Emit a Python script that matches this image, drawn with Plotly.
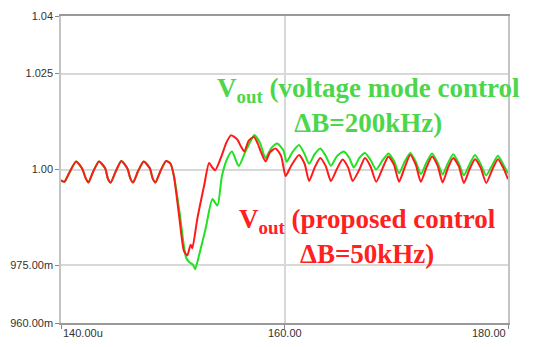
import plotly.graph_objects as go

# time in microseconds, voltage in volts
t_pre = [140.0, 140.3, 140.8, 141.35, 141.9, 142.2, 142.45, 142.9, 143.4, 143.95, 144.2, 144.45,
         144.9, 145.4, 145.95, 146.2, 146.45, 146.9, 147.4, 147.95, 148.2, 148.45, 148.9, 149.4, 149.8]
v_pre = [0.9972, 0.9968, 0.9995, 1.0021, 1.0002, 0.9978, 0.9966, 0.9996, 1.0021, 1.0003, 0.9976, 0.9966,
         0.9995, 1.0022, 1.0002, 0.9977, 0.9966, 0.9996, 1.0021, 1.0003, 0.9977, 0.9966, 0.9996, 1.0022, 1.0015]

t_red = [150.1, 150.6, 151.0, 151.3, 151.6, 151.75, 152.2, 152.8, 153.25, 153.55, 153.8, 154.3, 154.8,
         155.2, 155.5, 155.8, 156.1, 156.4, 156.8, 157.26, 157.6, 157.9, 158.3, 158.7, 159.2, 159.7,
         160.1, 160.6, 161.3, 161.8, 162.2, 162.7, 163.2, 163.7, 164.15, 164.7, 165.2, 165.7, 166.1,
         166.7, 167.2, 167.7, 168.2, 168.8, 169.3, 169.8, 170.25, 170.75, 171.25, 171.75, 172.2, 172.7,
         173.2, 173.7, 174.15, 174.6, 175.1, 175.6, 176.05, 176.55, 177.05, 177.55, 178.05, 178.6,
         179.1, 179.6, 180.0]
v_red = [0.9983, 0.9872, 0.9788, 0.9776, 0.9804, 0.9795, 0.9872, 0.9957, 1.0017, 1.0005, 0.9998, 1.0030,
         1.0070, 1.0089, 1.0085, 1.0077, 1.0060, 1.0047, 1.0075, 1.0085, 1.0068, 1.0045, 1.0021, 1.0045,
         1.0055, 1.0035, 0.9983, 1.0010, 1.0038, 1.0015, 0.9970, 1.0005, 1.0030, 1.0008, 0.9970, 1.0002,
         1.0026, 1.0005, 0.9970, 1.0000, 1.0030, 1.0008, 0.9968, 1.0005, 1.0034, 1.0012, 0.9968, 1.0005,
         1.0038, 1.0012, 0.9968, 1.0005, 1.0034, 1.0010, 0.9966, 1.0002, 1.0030, 1.0008, 0.9965, 1.0000,
         1.0027, 1.0005, 0.9965, 1.0000, 1.0027, 1.0003, 0.9975]

t_green = [150.1, 150.6, 151.0, 151.2, 151.5, 151.8, 152.0, 152.35, 152.95, 153.55, 154.0, 154.4, 154.9,
           155.3, 155.9, 156.5, 157.1, 157.3, 157.8, 158.3, 158.8, 159.35, 159.9, 160.2, 160.7, 161.3,
           161.8, 162.2, 162.7, 163.2, 163.7, 164.15, 164.7, 165.3, 165.8, 166.2, 166.7, 167.2, 167.7,
           168.2, 168.8, 169.3, 169.8, 170.25, 170.75, 171.25, 171.75, 172.2, 172.7, 173.2, 173.7, 174.15,
           174.6, 175.1, 175.6, 176.05, 176.55, 177.05, 177.55, 178.05, 178.6, 179.1, 179.6, 180.0]
v_green = [0.9985, 0.9890, 0.9800, 0.9770, 0.9758, 0.9752, 0.9740, 0.9776, 0.9847, 0.9923, 0.9906, 0.9983,
           1.0030, 1.0047, 1.0009, 1.0047, 1.0081, 1.0090, 1.0070, 1.0030, 1.0055, 1.0068, 1.0050, 1.0020,
           1.0045, 1.0064, 1.0040, 1.0015, 1.0040, 1.0055, 1.0035, 1.0010, 1.0035, 1.0047, 1.0030, 1.0005,
           1.0030, 1.0043, 1.0025, 1.0000, 1.0025, 1.0042, 1.0022, 0.9990, 1.0020, 1.0043, 1.0020, 0.9988,
           1.0018, 1.0042, 1.0018, 0.9987, 1.0015, 1.0040, 1.0016, 0.9985, 1.0013, 1.0038, 1.0014, 0.9985,
           1.0012, 1.0036, 1.0012, 0.9990]

y_tickvals = [0.96, 0.975, 1.0, 1.025, 1.04]
y_ticktext = ["960.00m", "975.00m", "1.00", "1.025", "1.04"]
x_tickvals = [140, 160, 180]
x_ticktext = ["140.00u", "160.00", "180.00"]

green_label = "<b>V<sub>out</sub> (voltage mode control<br>ΔB=200kHz)</b>"
red_label = "<b>V<sub>out</sub> (proposed control<br>ΔB=50kHz)</b>"

fig = go.Figure()
fig.add_trace(go.Scatter(x=t_pre + t_green, y=v_pre + v_green, mode="lines",
                         line=dict(color="#22e022", width=2, shape="spline", smoothing=0.6),
                         showlegend=False))
fig.add_trace(go.Scatter(x=t_pre + t_red, y=v_pre + v_red, mode="lines",
                         line=dict(color="#ff1a1a", width=2, shape="spline", smoothing=0.6),
                         showlegend=False))

annotations = []
anchors = ["left", "center", "right"]
for xv, xt, an in zip(x_tickvals, x_ticktext, anchors):
    annotations.append(dict(x=xv, y=0, xref="x", yref="paper", text=xt, showarrow=False,
                            xanchor=an, yanchor="top", yshift=-2,
                            font=dict(family="Liberation Sans", size=11, color="#333333")))
annotations.append(dict(x=167.5, y=1.0168, xref="x", yref="y", text=green_label, showarrow=False,
                        xanchor="center", yanchor="middle", align="center",
                        font=dict(family="Liberation Serif", size=27, color="#4cd64c")))
annotations.append(dict(x=167.4, y=0.9826, xref="x", yref="y", text=red_label, showarrow=False,
                        xanchor="center", yanchor="middle", align="center",
                        font=dict(family="Liberation Serif", size=27, color="#ff2020")))

fig.update_layout(
    width=534, height=347,
    margin=dict(l=60, r=26, t=10, b=24),
    paper_bgcolor="white", plot_bgcolor="white",
    annotations=annotations,
    xaxis=dict(range=[140, 180], tickvals=x_tickvals, showticklabels=False,
               ticks="outside", ticklen=4, tickcolor="#888888",
               showgrid=True, gridcolor="#d8d8d8", gridwidth=1.5,
               showline=True, linecolor="#999999", linewidth=1.5, mirror=True, zeroline=False),
    yaxis=dict(range=[0.96, 1.04], tickvals=y_tickvals, ticktext=y_ticktext,
               ticks="outside", ticklen=4, tickcolor="#888888",
               tickfont=dict(family="Liberation Sans", size=11, color="#333333"),
               showgrid=True, gridcolor="#d8d8d8", gridwidth=1.5,
               showline=True, linecolor="#c4c4c4", linewidth=1.5, mirror=True, zeroline=False),
)

fig.write_html("out.html")
